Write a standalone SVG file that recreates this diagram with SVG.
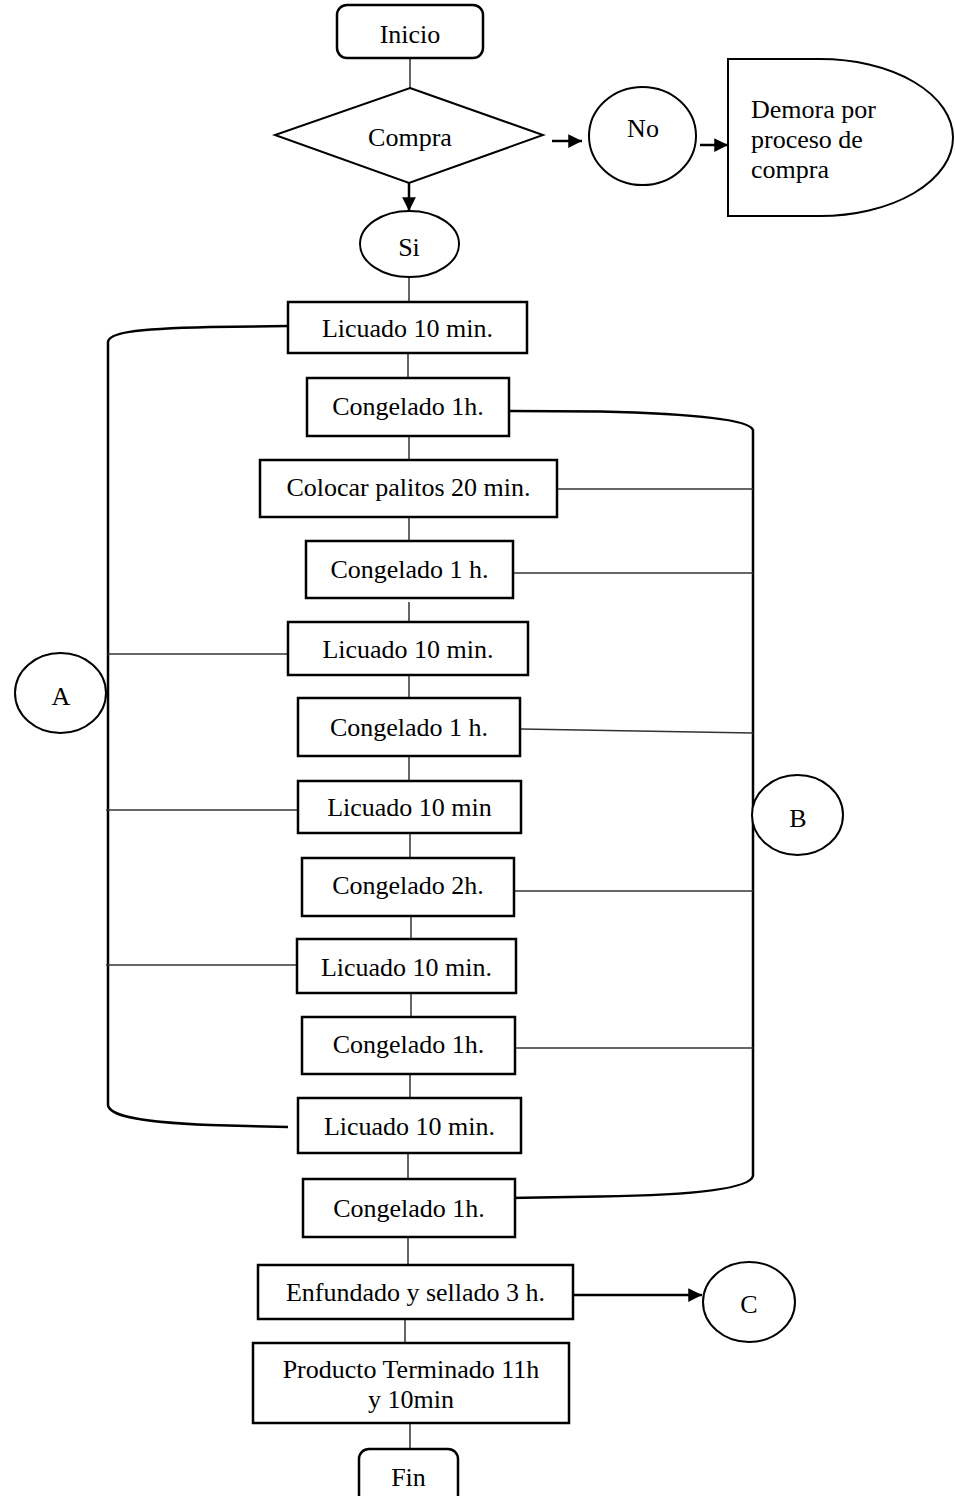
<svg xmlns="http://www.w3.org/2000/svg" width="955" height="1496" viewBox="0 0 955 1496">
  <style>
    .box { fill: #fff; stroke: #000; stroke-width: 2.5; }
    .shape { fill: #fff; stroke: #000; stroke-width: 2; }
    .lbl { font-family: 'Liberation Serif', 'DejaVu Serif', serif; font-size: 26px; fill: #000; text-anchor: middle; }
    .left { text-anchor: start; }
    .link { stroke: #333; stroke-width: 1.5; fill: none; }
    .brace { stroke: #000; stroke-width: 2.5; fill: none; }
    .arrow { stroke: #000; stroke-width: 2.5; fill: none; }
  </style>
  <defs>
    <marker id="head" viewBox="0 0 10 10" refX="10" refY="5" markerWidth="6" markerHeight="5.5" markerUnits="strokeWidth" orient="auto">
      <path d="M0,0 L10,5 L0,10 Z" fill="#000"/>
    </marker>
  </defs>
  <rect width="955" height="1496" fill="#fff"/>

  <!-- connectors -->
  <g id="connectors">
    <line class="link" x1="410" y1="58" x2="410" y2="88"/>
    <line class="arrow" x1="409" y1="183" x2="409" y2="211" marker-end="url(#head)"/>
    <line class="arrow" x1="552" y1="141" x2="582" y2="141" marker-end="url(#head)"/>
    <line class="arrow" x1="700" y1="145" x2="728" y2="145" marker-end="url(#head)"/>
    <line class="link" x1="409" y1="277" x2="409" y2="302"/>
    <line class="link" x1="408" y1="353" x2="408" y2="378"/>
    <line class="link" x1="409" y1="436" x2="409" y2="460"/>
    <line class="link" x1="409" y1="517" x2="409" y2="541"/>
    <line class="link" x1="409" y1="602" x2="409" y2="625"/>
    <line class="link" x1="409" y1="675" x2="409" y2="698"/>
    <line class="link" x1="409" y1="756" x2="409" y2="781"/>
    <line class="link" x1="410" y1="833" x2="410" y2="858"/>
    <line class="link" x1="411" y1="916" x2="411" y2="939"/>
    <line class="link" x1="411" y1="993" x2="411" y2="1017"/>
    <line class="link" x1="410" y1="1074" x2="410" y2="1098"/>
    <line class="link" x1="408" y1="1153" x2="408" y2="1179"/>
    <line class="link" x1="408" y1="1237" x2="408" y2="1265"/>
    <line class="link" x1="405" y1="1319" x2="405" y2="1343"/>
    <line class="link" x1="410" y1="1423" x2="410" y2="1449"/>
    <line class="arrow" x1="573" y1="1295" x2="702" y2="1295" marker-end="url(#head)"/>

    <!-- left bracket A -->
    <path class="brace" d="M288,326 L210,327 C130,329 109,333 108,342 L108,1105 C109,1114 130,1122 210,1125 L288,1127"/>
    <line class="link" x1="108" y1="654" x2="288" y2="654"/>
    <line class="link" x1="106" y1="810" x2="298" y2="810"/>
    <line class="link" x1="106" y1="965" x2="305" y2="965"/>

    <!-- right bracket B -->
    <path class="brace" d="M510,411 L600,411.5 C700,414 750,420 753,430 L753,1176 C750,1188 700,1195 600,1196.5 L509,1198"/>
    <line class="link" x1="557" y1="489" x2="753" y2="489"/>
    <line class="link" x1="509" y1="573" x2="753" y2="573"/>
    <line class="link" x1="521" y1="729" x2="753" y2="733"/>
    <line class="link" x1="509" y1="891" x2="753" y2="891"/>
    <line class="link" x1="509" y1="1048" x2="753" y2="1048"/>
  </g>

  <g font-family="Liberation Serif, DejaVu Serif, serif">
  <g id="inicio">
    <rect class="box" x="337" y="5" width="146" height="53" rx="10"/>
    <text class="lbl" x="410" y="43">Inicio</text>
  </g>
  <g id="compra">
    <polygon class="shape" points="410,88 543,135 409,183 275,135"/>
    <text class="lbl" x="410" y="146">Compra</text>
  </g>
  <g id="no">
    <ellipse class="shape" cx="642.5" cy="136" rx="53.5" ry="49"/>
    <text class="lbl" x="643" y="137">No</text>
  </g>
  <g id="demora">
    <path class="shape" d="M728,59 H820 A133,78.5 0 0 1 820,216 H728 Z"/>
    <text class="lbl left" x="751" y="118">Demora por</text>
    <text class="lbl left" x="751" y="148">proceso de</text>
    <text class="lbl left" x="751" y="178">compra</text>
  </g>
  <g id="si">
    <ellipse class="shape" cx="409.5" cy="244" rx="49.5" ry="33"/>
    <text class="lbl" x="409" y="256">Si</text>
  </g>

  <g id="licuado-1">
    <rect class="box" x="288" y="302" width="239" height="51"/>
    <text class="lbl" x="407.5" y="337">Licuado 10 min.</text>
  </g>
  <g id="congelado-1">
    <rect class="box" x="307" y="378" width="202" height="58"/>
    <text class="lbl" x="408" y="415">Congelado 1h.</text>
  </g>
  <g id="palitos">
    <rect class="box" x="260" y="460" width="297" height="57"/>
    <text class="lbl" x="408.5" y="496">Colocar palitos 20 min.</text>
  </g>
  <g id="congelado-2">
    <rect class="box" x="306" y="541" width="207" height="57"/>
    <text class="lbl" x="409.5" y="578">Congelado 1 h.</text>
  </g>
  <g id="licuado-2">
    <rect class="box" x="288" y="622" width="240" height="53"/>
    <text class="lbl" x="408" y="658">Licuado 10 min.</text>
  </g>
  <g id="congelado-3">
    <rect class="box" x="298" y="698" width="222" height="58"/>
    <text class="lbl" x="409" y="736">Congelado 1 h.</text>
  </g>
  <g id="licuado-3">
    <rect class="box" x="298" y="781" width="223" height="52"/>
    <text class="lbl" x="409.5" y="816">Licuado 10 min</text>
  </g>
  <g id="congelado-4">
    <rect class="box" x="302" y="858" width="212" height="58"/>
    <text class="lbl" x="408" y="894">Congelado 2h.</text>
  </g>
  <g id="licuado-4">
    <rect class="box" x="297" y="939" width="219" height="54"/>
    <text class="lbl" x="406.5" y="976">Licuado 10 min.</text>
  </g>
  <g id="congelado-5">
    <rect class="box" x="302" y="1017" width="213" height="57"/>
    <text class="lbl" x="408.5" y="1053">Congelado 1h.</text>
  </g>
  <g id="licuado-5">
    <rect class="box" x="298" y="1098" width="223" height="55"/>
    <text class="lbl" x="409.5" y="1135">Licuado 10 min.</text>
  </g>
  <g id="congelado-6">
    <rect class="box" x="303" y="1179" width="212" height="58"/>
    <text class="lbl" x="409" y="1217">Congelado 1h.</text>
  </g>
  <g id="enfundado">
    <rect class="box" x="258" y="1265" width="315" height="54"/>
    <text class="lbl" x="415.5" y="1301">Enfundado y sellado 3 h.</text>
  </g>
  <g id="producto">
    <rect class="box" x="253" y="1343" width="316" height="80"/>
    <text class="lbl" x="411" y="1378">Producto Terminado 11h</text>
    <text class="lbl" x="411" y="1408">y 10min</text>
  </g>
  <g id="fin">
    <rect class="box" x="359" y="1449" width="99" height="60" rx="10"/>
    <text class="lbl" x="408.5" y="1486">Fin</text>
  </g>

  <g id="a">
    <ellipse class="shape" cx="60.5" cy="693" rx="45.5" ry="40"/>
    <text class="lbl" x="61" y="705">A</text>
  </g>
  <g id="b">
    <ellipse class="shape" cx="797.5" cy="815" rx="45.5" ry="40"/>
    <text class="lbl" x="798" y="827">B</text>
  </g>
  <g id="c">
    <ellipse class="shape" cx="749" cy="1302" rx="46" ry="40"/>
    <text class="lbl" x="749" y="1313">C</text>
  </g>
  </g>
</svg>
